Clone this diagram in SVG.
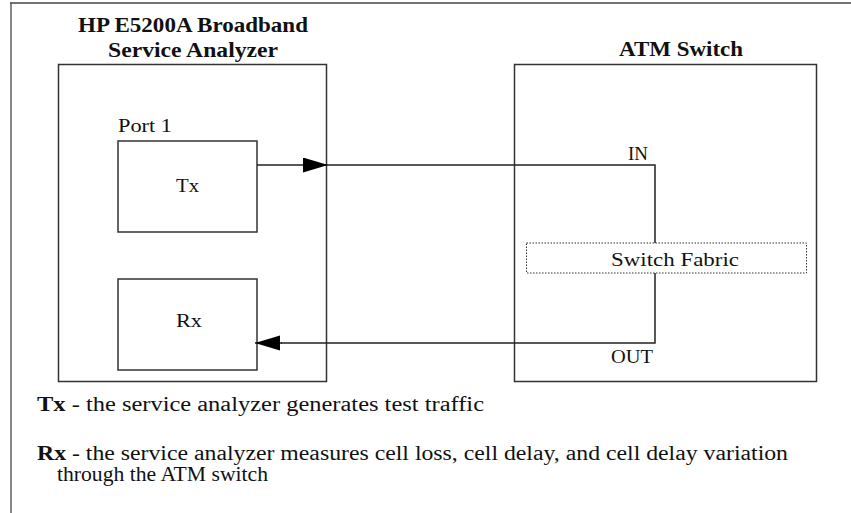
<svg xmlns="http://www.w3.org/2000/svg" width="851" height="513" viewBox="0 0 851 513">
<style>
.box{fill:none;stroke:#333;stroke-width:1.5}
.lbl{font-family:"Liberation Serif",serif;font-size:19px;fill:#111}
.ttl{font-family:"Liberation Serif",serif;font-size:21px;font-weight:bold;fill:#111}
.note{font-family:"Liberation Serif",serif;font-size:20px;fill:#111}
.wire{fill:none;stroke:#222;stroke-width:1.5}
</style>
<defs>
<marker id="ah" markerWidth="26" markerHeight="16" refX="25" refY="7.5" orient="auto" markerUnits="userSpaceOnUse">
<path d="M0,0 L25,7.5 L0,15 z" fill="#000"/>
</marker>
</defs>
<rect width="851" height="513" fill="#fff"/>
<g id="frame">
<line x1="11" y1="3" x2="11" y2="513" stroke="#888" stroke-width="2"/>
<line x1="10" y1="3" x2="851" y2="3" stroke="#444" stroke-width="1.5"/>
</g>
<g id="analyzer">
<rect class="box" x="58.5" y="64.5" width="268" height="317"/>
<text class="ttl" x="78" y="32" textLength="230" lengthAdjust="spacingAndGlyphs">HP E5200A Broadband</text>
<text class="ttl" x="108" y="57" textLength="170" lengthAdjust="spacingAndGlyphs">Service Analyzer</text>
</g>
<g id="tx">
<text class="lbl" x="118" y="132" textLength="54" lengthAdjust="spacingAndGlyphs">Port 1</text>
<rect class="box" x="118" y="141" width="139" height="91"/>
<text class="lbl" x="176" y="192" textLength="23" lengthAdjust="spacingAndGlyphs">Tx</text>
</g>
<g id="rx">
<rect class="box" x="118" y="279" width="139" height="91"/>
<text class="lbl" x="176" y="327" textLength="26" lengthAdjust="spacingAndGlyphs">Rx</text>
</g>
<g id="switch">
<rect class="box" x="514.5" y="64.5" width="302" height="317"/>
<text class="ttl" x="619" y="56" textLength="124" lengthAdjust="spacingAndGlyphs">ATM Switch</text>
</g>
<g id="fabric">
<rect x="526.5" y="243" width="280" height="30" fill="none" stroke="#333" stroke-width="1" stroke-dasharray="1.5,1.5"/>
<text class="lbl" x="611" y="266" textLength="128" lengthAdjust="spacingAndGlyphs">Switch Fabric</text>
</g>
<g id="connectors">
<path class="wire" d="M257,165 H328" marker-end="url(#ah)"/>
<path class="wire" d="M328,165 H655 V243"/>
<path class="wire" d="M655,273 V343 H281"/>
<path class="wire" d="M282,343 H255" marker-end="url(#ah)"/>
<text class="lbl" x="628" y="160" textLength="20" lengthAdjust="spacingAndGlyphs">IN</text>
<text class="lbl" x="611" y="363" textLength="42" lengthAdjust="spacingAndGlyphs">OUT</text>
</g>
<g id="notes">
<text class="note" x="37" y="411" textLength="447" lengthAdjust="spacingAndGlyphs"><tspan font-weight="bold">Tx</tspan> - the service analyzer generates test traffic</text>
<text class="note" x="37" y="460" textLength="751" lengthAdjust="spacingAndGlyphs"><tspan font-weight="bold">Rx</tspan> - the service analyzer measures cell loss, cell delay,  and cell delay variation</text>
<text class="note" x="57" y="481" textLength="211" lengthAdjust="spacingAndGlyphs">through the ATM switch</text>
</g>
</svg>
